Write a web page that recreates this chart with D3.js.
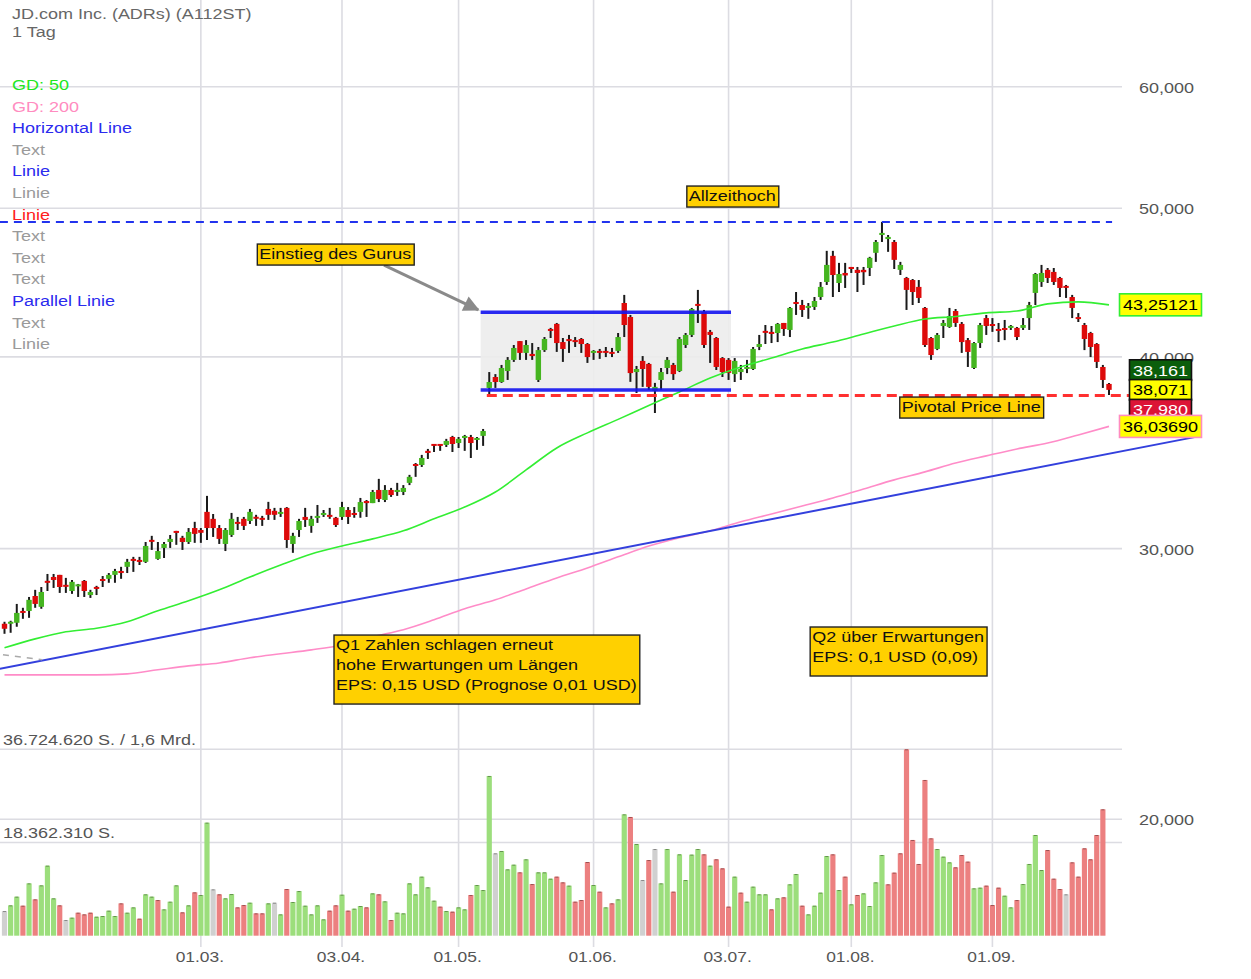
<!DOCTYPE html>
<html>
<head>
<meta charset="utf-8">
<script src="https://cdn.jsdelivr.net/npm/d3@7"></script>
<style>
html,body{margin:0;padding:0;background:#fff;}
svg{display:block;font-family:"Liberation Sans",Arial,Helvetica,sans-serif;}
</style>
</head>
<body>
<svg id="chart" width="1251" height="979"></svg>
<script>
// ================= DATA =================
const title = "JD.com Inc. (ADRs) (A112ST)";
const period = "1 Tag";
const firstDay = "2017-01-12", lastDay = "2017-09-29";
const holidays = ["2017-01-16","2017-02-20","2017-04-14","2017-05-29","2017-07-04","2017-09-04"];

const open = [26.80,26.76,26.84,27.28,27.32,27.94,27.49,28.54,28.75,28.84,
28.37,28.15,28.37,28.58,27.98,28.28,28.62,28.67,28.84,29.01,
29.19,29.54,29.45,29.41,30.35,29.54,30.03,30.30,30.76,30.49,
30.30,30.94,30.85,31.70,31.37,30.94,30.21,30.62,31.18,31.37,
31.27,31.42,31.37,31.84,31.75,31.56,31.89,30.21,30.85,31.46,
31.04,31.37,31.51,31.51,31.42,31.46,31.79,31.60,31.70,32.22,
32.12,32.76,32.27,32.76,32.66,32.66,33.11,34.01,34.01,34.74,
35.05,35.05,35.05,35.47,35.15,35.37,35.47,35.31,35.53,38.18,
38.81,38.52,39.16,39.82,40.96,40.24,40.18,38.64,40.41,41.65,
42.03,40.90,41.02,40.96,41.09,40.78,40.24,40.30,40.30,40.24,
40.36,43.37,42.47,39.10,39.76,39.58,38.01,38.64,39.34,39.52,
39.16,40.72,41.34,43.31,42.79,41.53,41.15,39.93,39.82,38.98,
39.10,39.28,39.28,40.60,41.53,41.53,41.46,42.09,41.65,43.37,
43.24,43.05,43.11,43.76,44.76,46.55,44.69,45.37,45.78,45.58,
45.58,45.71,46.76,48.03,47.74,47.53,45.58,45.03,44.89,44.43,
43.05,41.15,40.48,41.90,41.84,42.85,42.03,41.02,39.34,40.84,
42.40,41.96,41.65,41.71,41.78,41.78,41.78,42.40,44.03,44.76,
45.58,45.44,45.03,44.43,43.76,42.40,41.96,41.46,40.78,39.40,
38.41];
const high = [26.88,26.92,27.61,27.45,27.90,28.20,28.32,28.88,28.88,28.84,
28.71,28.62,28.45,28.62,28.20,28.37,28.79,28.92,29.10,29.19,
29.54,29.63,29.63,30.30,30.58,30.30,30.30,30.62,30.81,30.58,
30.94,31.23,30.94,32.47,31.60,31.08,30.94,31.65,31.46,31.46,
31.84,31.56,31.51,32.18,31.89,31.89,31.93,30.72,31.37,31.89,
31.51,32.03,31.79,31.89,31.46,32.18,31.93,31.93,32.37,32.27,
32.76,33.31,33.00,32.86,33.11,33.00,33.51,34.11,34.53,34.84,
35.05,35.05,35.37,35.53,35.47,35.58,35.58,35.47,35.90,39.10,
38.98,39.52,39.99,40.72,40.96,41.02,40.84,40.60,41.21,41.78,
42.09,41.15,41.34,41.21,41.15,40.84,40.41,40.48,40.60,40.54,
41.46,43.90,42.60,39.46,40.05,39.64,38.47,39.34,39.99,39.64,
41.21,41.46,43.05,44.23,42.92,41.65,41.21,39.99,39.93,39.93,
39.52,39.82,40.60,41.34,41.96,41.90,42.09,42.09,43.11,44.09,
43.57,43.37,43.76,44.76,46.90,46.90,46.06,46.06,45.78,45.78,
45.78,46.48,47.67,48.98,48.03,47.67,46.13,45.10,44.96,44.89,
43.11,41.21,41.46,42.28,43.05,42.98,42.15,41.15,40.90,42.09,
42.60,42.40,42.09,42.28,41.96,41.84,42.40,43.44,45.37,45.92,
45.71,45.71,45.10,44.56,43.90,42.72,42.09,41.53,40.84,39.52,
38.47];
const low = [26.40,26.44,26.68,27.00,27.04,27.45,27.41,28.15,28.28,28.07,
28.07,28.03,27.90,27.90,27.86,27.98,28.32,28.50,28.50,28.67,
28.92,28.97,29.27,29.36,29.94,29.50,29.58,30.03,30.17,29.94,
30.21,30.26,30.26,30.39,30.53,30.21,29.89,30.53,30.85,30.85,
31.13,31.04,31.04,31.32,31.32,31.46,30.03,29.81,30.53,30.99,
30.72,31.18,31.46,31.37,30.99,31.32,31.13,31.42,31.42,31.46,
32.12,32.17,32.17,32.42,32.47,32.51,33.00,33.41,33.91,34.32,
34.68,34.74,34.94,34.68,34.89,34.74,34.37,34.79,35.00,37.67,
38.18,38.47,38.64,39.70,39.82,39.82,39.82,38.52,40.30,41.15,
40.30,39.70,40.24,40.60,40.24,39.64,39.82,39.88,39.99,39.99,
40.24,41.21,38.53,37.89,38.24,38.06,36.77,38.06,38.98,38.64,
39.10,40.54,41.21,42.09,40.54,39.64,39.22,38.81,38.64,38.52,
38.64,39.04,39.22,40.41,40.78,40.84,40.90,41.28,41.21,42.60,
42.47,42.35,42.92,43.57,44.56,43.76,44.09,44.36,45.37,44.09,
44.56,45.16,46.13,47.53,46.83,45.64,45.23,42.92,43.24,43.37,
40.60,39.82,40.41,41.15,41.78,41.84,40.24,39.40,39.28,40.54,
41.34,41.53,40.90,41.02,41.65,41.02,41.65,41.65,43.24,44.43,
44.69,44.56,43.76,43.70,42.40,42.15,40.41,39.99,39.34,38.18,
37.78];
const close = [26.60,26.84,27.24,27.20,27.78,27.61,28.11,28.50,28.62,28.32,
28.32,28.54,28.39,28.15,28.11,28.24,28.54,28.84,29.01,28.92,
29.41,29.45,29.41,30.12,30.26,29.89,30.21,30.44,30.67,30.30,
30.76,30.67,30.72,30.94,30.94,30.44,30.85,31.37,31.13,31.04,
31.70,31.37,31.32,31.56,31.56,31.65,30.39,30.58,31.27,31.32,
31.37,31.46,31.60,31.46,31.08,31.93,31.46,31.51,32.17,32.12,
32.66,32.32,32.76,32.51,32.76,32.86,33.41,33.91,34.37,34.63,
34.99,34.95,35.26,35.10,35.37,35.47,35.15,35.42,35.79,38.52,
38.52,39.34,39.82,40.54,40.24,40.72,40.05,40.41,41.09,41.59,
40.84,40.48,40.90,40.84,40.78,39.99,40.30,40.24,40.27,40.18,
41.21,41.96,39.04,39.28,39.28,38.24,38.24,39.10,39.82,38.98,
41.09,41.34,42.98,43.18,40.72,41.34,39.40,39.10,39.05,39.76,
39.28,39.40,40.48,40.78,41.46,41.40,42.03,41.71,43.05,43.31,
42.92,43.18,43.50,44.43,45.92,45.23,45.30,45.20,45.64,45.37,
45.42,46.41,47.53,48.18,47.89,46.27,45.92,44.23,44.09,43.70,
40.72,40.11,41.34,42.09,42.53,42.09,40.90,40.30,40.84,41.96,
41.90,41.84,41.53,41.59,41.84,41.21,41.96,43.24,45.30,45.37,
45.03,44.76,44.36,44.36,43.05,42.34,41.09,40.60,39.70,38.64,
38.07];
// volume in millions of shares (last day: no volume bar)
const volumeMio = [4.86,5.98,7.69,5.91,10.31,7.16,9.92,13.80,7.36,5.98,
3.09,3.55,4.53,4.20,4.53,3.74,3.88,4.93,3.88,6.37,
4.53,5.58,3.35,8.15,7.69,7.03,5.19,6.70,9.92,4.60,
5.98,8.54,8.02,22.27,9.13,8.15,7.36,8.21,5.58,6.04,
6.50,4.40,4.40,6.37,6.50,4.20,9.20,6.64,8.80,5.91,
4.20,5.98,3.22,4.93,5.98,8.08,4.93,5.32,5.85,5.58,
8.34,8.15,6.77,3.09,4.53,4.40,10.31,8.15,11.63,9.53,
6.90,5.72,4.86,4.73,5.58,5.19,8.02,9.99,9.00,31.47,
16.23,16.69,13.07,13.99,12.48,15.05,10.18,12.48,12.48,11.23,
11.63,10.51,9.86,6.70,7.03,14.52,9.99,8.67,5.58,6.37,
7.16,23.91,23.39,18.07,10.97,14.91,17.08,10.31,17.08,8.67,
16.03,10.97,15.97,17.08,16.03,13.80,15.05,13.27,5.72,11.63,
8.48,6.70,9.66,8.15,8.15,5.19,7.36,7.56,10.12,12.15,
5.91,4.20,5.91,8.48,15.70,16.03,9.00,11.63,6.18,8.02,
8.34,5.85,10.51,15.90,10.12,12.42,16.23,36.72462,18.86,14.13,
30.68,19.18,17.08,15.57,14.45,13.47,15.90,14.59,9.33,9.46,
9.86,6.04,9.46,7.88,5.58,7.03,10.18,14.13,19.84,12.94,
16.88,11.23,9.20,8.15,14.45,11.63,17.21,15.05,19.84,24.90,
null];
const volumeLevels = [36.72462, 18.36231];
const volumeLevelLabels = ["36.724.620 S. / 1,6 Mrd.", "18.362.310 S."];
const volumeAxisMax = 32;
const volumeAxisTicks = [20];

// moving averages, one value every 5 trading days (day 0,5,...,180)
const smaStep = 5;
const gd50 = [25.85,26.20,26.48,26.62,26.88,27.33,27.74,28.20,28.75,29.27,
29.76,30.12,30.44,30.81,31.37,31.93,32.66,33.76,34.89,35.69,
36.42,37.19,37.95,38.75,39.40,39.93,40.48,40.90,41.40,41.90,
42.34,42.50,42.73,42.85,43.31,43.44,43.25];
const gd200 = [24.82,24.82,24.82,24.82,24.86,25.01,25.16,25.27,25.47,25.62,
25.77,25.96,26.28,26.56,26.96,27.41,27.78,28.24,28.71,29.14,
29.63,30.12,30.49,30.81,31.23,31.60,31.98,32.37,32.81,33.26,
33.66,34.11,34.48,34.84,35.15,35.58,36.04];

const priceTicks = [30, 40, 50, 60];
const xTickDates = ["2017-03-01","2017-04-03","2017-05-01","2017-06-01","2017-07-03","2017-08-01","2017-09-01"];

const legendLabels = ["GD: 50","GD: 200","Horizontal Line","Text","Linie","Linie","Linie","Text","Text","Text","Parallel Linie","Text","Linie"];
const legendColors = ["#22e622","#ff8cc0","#2b2bee","#9a9a9a","#2b2bee","#9a9a9a","#ff2020","#9a9a9a","#9a9a9a","#9a9a9a","#2b2bee","#9a9a9a","#9a9a9a"];

// drawing tools (day index, price)
const allTimeHigh = 48.98, allTimeHighFrom = -0.75, allTimeHighTo = 180.5;
const pivotPrice = 37.75, pivotFrom = 78.6, pivotTo = 183.3;
const channelTop = 42.77, channelBottom = 38.06, channelFrom = 77.6, channelTo = 118.4;
const trendIdx = [-0.75, 195.0], trendPrice = [25.05, 35.53];
const greyLineIdx = [-0.25, 6.1], greyLinePrice = [25.58, 25.39];
const arrowIdx = [61.85, 77.2], arrowPrice = [45.91, 42.93];

const notes = [
  {lines:["Allzeithoch"], idx:111.2, price:51.69},
  {lines:["Einstieg des Gurus"], idx:41.2, price:47.38},
  {lines:["Pivotal Price Line"], idx:145.9, price:37.66},
  {lines:["Q1 Zahlen schlagen erneut","hohe Erwartungen um Längen","EPS: 0,15 USD (Prognose 0,01 USD)"], idx:53.7, price:26.35},
  {lines:["Q2 über Erwartungen","EPS: 0,1 USD (0,09)"], idx:131.3, price:26.67}
];

const lastValues = [43.25121, 38.161, 38.071, 37.980, 36.03690];
const lastDecimals = [5, 3, 3, 3, 5];
const lastSlots = [null, -1, 0, 1, null];   // stacked around the close
const lastFill = ["#ffff00","#0b5e0b","#ffff00","#dc1436","#ffff00"];
const lastStroke = ["#33ee33","#111","#111","#111","#ff8cc0"];
const lastText = ["#000","#fff","#000","#fff","#000"];

// ================= HELPERS =================
function tradingDays(a, b, hol) {
  const hs = new Set(hol), out = [];
  let d = new Date(a + "T12:00:00Z");
  const e = new Date(b + "T12:00:00Z");
  while (d <= e) {
    const wd = d.getUTCDay(), s = d.toISOString().slice(0, 10);
    if (wd !== 0 && wd !== 6 && !hs.has(s)) out.push(s);
    d = new Date(d.getTime() + 86400000);
  }
  return out;
}
const dates = tradingDays(firstDay, lastDay, holidays);
const n = close.length;
const SX = 1.2; // horizontal stretch of the original fonts
const de = (v, k) => v.toFixed(k).replace(".", ",");

const svg = d3.select("#chart");
const plotRight = 1122;
const x = d3.scaleLinear().domain([0, n - 1]).range([4.5, 1109]);
const y = d3.scaleLog().domain([30, 60]).range([548.6, 86.7]);
const yv = d3.scaleLinear().domain([0, volumeLevels[0]]).range([935.7, 749.3]);
const yvAxis = d3.scaleLinear().domain([0, volumeAxisMax]).range([935.7, 749.3]);

function label(g, px, py, str, o = {}) {
  return g.append("text")
    .attr("transform", `translate(${px},${py}) scale(${SX},1)`)
    .attr("font-size", o.size || 15)
    .attr("fill", o.fill || "#555")
    .attr("text-anchor", o.anchor || "start")
    .attr("font-weight", o.weight || "normal")
    .text(str);
}

// ================= GRID =================
const grid = svg.append("g").attr("stroke", "#dcdce2").attr("stroke-width", 1.6);
const tickIdx = xTickDates.map(d => dates.indexOf(d));
grid.selectAll("line.v").data(tickIdx).join("line").attr("class","v")
  .attr("x1", d => x(d)).attr("x2", d => x(d)).attr("y1", 0).attr("y2", 947);
grid.selectAll("line.h").data(priceTicks).join("line").attr("class","h")
  .attr("x1", 0).attr("x2", plotRight).attr("y1", d => y(d)).attr("y2", d => y(d));
grid.selectAll("line.vl").data(volumeLevels).join("line").attr("class","vl")
  .attr("x1", 0).attr("x2", plotRight).attr("y1", d => yv(d)).attr("y2", d => yv(d));
grid.selectAll("line.va").data(volumeAxisTicks).join("line").attr("class","va")
  .attr("x1", 0).attr("x2", plotRight).attr("y1", d => yvAxis(d)).attr("y2", d => yvAxis(d));

// ================= CHANNEL BACKGROUND =================
svg.append("rect")
  .attr("x", x(channelFrom)).attr("width", x(channelTo) - x(channelFrom))
  .attr("y", y(channelTop)).attr("height", y(channelBottom) - y(channelTop))
  .attr("fill", "#ececec").attr("opacity", 0.9);

// ================= VOLUME =================
const volColor = i => i === 0 || close[i] === close[i - 1] ? "#d0d0d0" : (close[i] > close[i - 1] ? "#9cde7c" : "#ec8080");
const volIdx = d3.range(n).filter(i => volumeMio[i] != null);
svg.append("g").selectAll("rect").data(volIdx).join("rect")
  .attr("x", i => x(i) - 2.6).attr("width", 5.2)
  .attr("y", i => yv(volumeMio[i])).attr("height", i => yv(0) - yv(volumeMio[i]))
  .attr("fill", volColor);
svg.append("g").selectAll("rect").data(volIdx).join("rect")
  .attr("x", i => x(i) - 1.5).attr("width", 3)
  .attr("y", i => yv(volumeMio[i])).attr("height", 1)
  .attr("fill", i => d3.color(volColor(i)).darker(1.2));

// ================= CANDLES =================
const cg = svg.append("g");
cg.selectAll("line").data(d3.range(n)).join("line")
  .attr("x1", i => x(i)).attr("x2", i => x(i))
  .attr("y1", i => y(high[i])).attr("y2", i => y(low[i]))
  .attr("stroke", "#1a1a1a").attr("stroke-width", 2);
cg.selectAll("rect").data(d3.range(n)).join("rect")
  .attr("x", i => x(i) - 2.7).attr("width", 5.4)
  .attr("y", i => Math.min(y(open[i]), y(close[i])) - (Math.abs(y(open[i]) - y(close[i])) < 2 ? 1 : 0))
  .attr("height", i => Math.max(2, Math.abs(y(open[i]) - y(close[i]))))
  .attr("fill", i => close[i] >= open[i] ? "#45b520" : "#dd0a0a");

// ================= LINES =================
const lineGen = d3.line().x(d => x(d[0])).y(d => y(d[1])).curve(d3.curveMonotoneX);
svg.append("path").datum(gd200.map((v, k) => [k * smaStep, v]))
  .attr("d", lineGen).attr("fill", "none").attr("stroke", "#ff8cc8").attr("stroke-width", 1.6);
svg.append("path").datum(trendIdx.map((v, k) => [v, trendPrice[k]]))
  .attr("d", d3.line().x(d => x(d[0])).y(d => y(d[1]))).attr("fill", "none")
  .attr("stroke", "#3340dd").attr("stroke-width", 2);
svg.append("path").datum(gd50.map((v, k) => [k * smaStep, v]))
  .attr("d", lineGen).attr("fill", "none").attr("stroke", "#33ee33").attr("stroke-width", 1.6);
svg.append("path").datum(greyLineIdx.map((v, k) => [v, greyLinePrice[k]]))
  .attr("d", d3.line().x(d => x(d[0])).y(d => y(d[1]))).attr("fill", "none")
  .attr("stroke", "#aaa").attr("stroke-width", 1.5).attr("stroke-dasharray", "6,6");

// horizontal all-time-high line
svg.append("line").attr("x1", x(allTimeHighFrom)).attr("x2", x(allTimeHighTo))
  .attr("y1", y(allTimeHigh)).attr("y2", y(allTimeHigh))
  .attr("stroke", "#2233ee").attr("stroke-width", 2).attr("stroke-dasharray", "8,6");
// pivot line
svg.append("line").attr("x1", x(pivotFrom)).attr("x2", x(pivotTo))
  .attr("y1", y(pivotPrice)).attr("y2", y(pivotPrice))
  .attr("stroke", "#ff3030").attr("stroke-width", 3).attr("stroke-dasharray", "10,6");
// channel lines
[channelTop, channelBottom].forEach(p => {
  svg.append("line").attr("x1", x(channelFrom)).attr("x2", x(channelTo))
    .attr("y1", y(p)).attr("y2", y(p))
    .attr("stroke", "#1414f0").attr("stroke-width", 3.5).attr("opacity", 0.9);
});

// arrow
const defs = svg.append("defs");
defs.append("marker").attr("id", "ah").attr("viewBox", "0 0 10 10")
  .attr("refX", 9).attr("refY", 5).attr("markerWidth", 18).attr("markerHeight", 16)
  .attr("markerUnits", "userSpaceOnUse").attr("orient", "auto")
  .append("path").attr("d", "M0,0 L10,5 L0,10 Z").attr("fill", "#8a8a8a");
svg.append("line")
  .attr("x1", x(arrowIdx[0])).attr("y1", y(arrowPrice[0]))
  .attr("x2", x(arrowIdx[1])).attr("y2", y(arrowPrice[1]))
  .attr("stroke", "#8a8a8a").attr("stroke-width", 3).attr("marker-end", "url(#ah)");

// ================= NOTES =================
const ng = svg.append("g");
notes.forEach(nt => {
  const left = x(nt.idx), top = y(nt.price);
  const k = nt.lines.length;
  const h = 20 * k + (k > 1 ? 9 : 1);
  const box = ng.append("rect").attr("x", left).attr("y", top).attr("height", h)
    .attr("fill", "#ffd000").attr("stroke", "#222").attr("stroke-width", 1.4);
  let w = 0;
  nt.lines.forEach((s, j) => {
    const t = label(ng, left + 2, top + 15 + 20 * j, s, {fill: "#111"});
    w = Math.max(w, t.node().getComputedTextLength() * SX);
  });
  box.attr("width", w + 5);
});

// ================= TITLE & LEGEND =================
const tg = svg.append("g");
label(tg, 12, 18.5, title, {fill: "#666"});
label(tg, 12, 36.5, period, {fill: "#666"});
legendLabels.forEach((s, k) => label(tg, 12, 90 + 21.6 * k, s, {fill: legendColors[k]}));

// ================= AXES =================
const axR = svg.append("g").attr("transform", "translate(1139,0)")
  .call(d3.axisRight(y).tickValues(priceTicks).tickFormat(v => de(v, 3)).tickSize(0).tickPadding(0));
axR.select(".domain").remove();
axR.selectAll("text").attr("x", 0).attr("dy", "0.37em").attr("transform", `scale(${SX},1)`)
  .attr("fill", "#555").attr("font-size", 15).attr("font-family", "Liberation Sans, Arial, sans-serif");

const axV = svg.append("g").attr("transform", "translate(1139,0)")
  .call(d3.axisRight(yvAxis).tickValues(volumeAxisTicks).tickFormat(v => de(v, 3)).tickSize(0).tickPadding(0));
axV.select(".domain").remove();
axV.selectAll("text").attr("x", 0).attr("dy", "0.37em").attr("transform", `scale(${SX},1)`)
  .attr("fill", "#555").attr("font-size", 15).attr("font-family", "Liberation Sans, Arial, sans-serif");

const fmtDay = d => d.slice(8, 10) + "." + d.slice(5, 7) + ".";
const axB = svg.append("g").attr("transform", "translate(0,952)")
  .call(d3.axisBottom(x).tickValues(tickIdx).tickFormat(i => fmtDay(dates[i])).tickSize(0).tickPadding(0));
axB.select(".domain").remove();
axB.selectAll("text").attr("y", 0).attr("dy", "0.71em").attr("transform", `scale(${SX},1)`)
  .attr("fill", "#555").attr("font-size", 14.5).attr("font-family", "Liberation Sans, Arial, sans-serif");
axB.selectAll(".tick").each(function (i) {
  d3.select(this).attr("transform", `translate(${x(i) - 1},0)`);
});

volumeLevels.forEach((v, k) => label(svg, 3, yv(v) - 4.5, volumeLevelLabels[k], {fill: "#555"}));

// ================= LAST VALUE BOXES =================
const lg = svg.append("g");
lastValues.forEach((v, k) => {
  const cy = lastSlots[k] == null ? y(v) : y(close[n - 1]) + 19.8 * lastSlots[k];
  const h = lastSlots[k] == null ? 22 : 20.5;
  const t = label(lg, 0, 0, de(v, lastDecimals[k]), {fill: lastText[k]});
  const w = t.node().getComputedTextLength() * SX + 7;
  const cx = 1160.5;
  lg.insert("rect", () => t.node())
    .attr("x", cx - w / 2).attr("y", cy - h / 2).attr("width", w).attr("height", h)
    .attr("fill", lastFill[k]).attr("stroke", lastStroke[k]).attr("stroke-width", 1.6);
  t.attr("transform", `translate(${cx - w / 2 + 3.5},${cy + 5.5}) scale(${SX},1)`);
});
</script>
</body>
</html>
